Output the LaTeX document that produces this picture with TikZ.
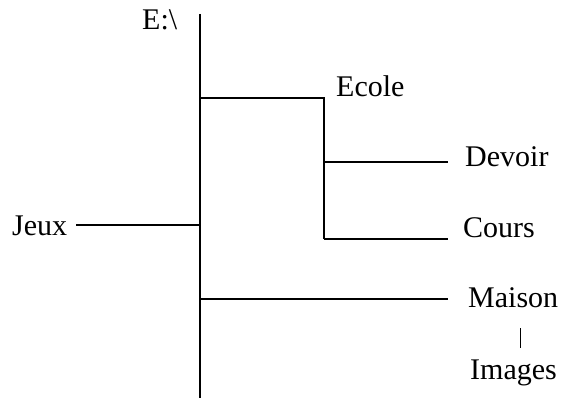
\documentclass[tikz,border=0pt]{standalone}
\usepackage{fontspec}
\setmainfont{Liberation Serif}
\begin{document}
\begin{tikzpicture}[x=1pt,y=-1pt,
  lbl/.style={anchor=base west,inner sep=0pt,font=\fontsize{30}{36}\selectfont},
  ln/.style={line width=1.8pt}]
\useasboundingbox (0,0) rectangle (565,398);
% labels
\node[lbl] (root) at (142,30) {E:\textbackslash};
\node[lbl] (ecole) at (336,97) {Ecole};
\node[lbl] (devoir) at (465,167) {Devoir};
\node[lbl] (cours) at (463,237) {Cours};
\node[lbl] (jeux) at (12,236) {Jeux};
\node[lbl] (maison) at (468,307) {Maison};
\node[lbl] (images) at (470,379) {Images};
% junction coordinates
\coordinate (top) at (200,14);
\coordinate (bot) at (200,398);
\coordinate (je) at (200,98);
\coordinate (ec) at (324,98);
\coordinate (ed) at (324,162);
\coordinate (eb) at (324,239);
\coordinate (dv) at (448,162);
\coordinate (cr) at (448,239);
\coordinate (jj) at (200,225);
\coordinate (jx) at (76,225);
\coordinate (jm) at (200,299);
\coordinate (ms) at (448,299);
\coordinate (mi1) at (520.7,328);
\coordinate (mi2) at (520.7,348);
% connectors
\draw[ln] (top) -- (bot);
\draw[ln] (je) -- (ec) -- (eb);
\draw[ln] (ed) -- (dv);
\draw[ln] (eb) -- (cr);
\draw[ln] (jx) -- (jj);
\draw[ln] (jm) -- (ms);
\draw[line width=1.4pt] (mi1) -- (mi2);
\end{tikzpicture}
\end{document}
